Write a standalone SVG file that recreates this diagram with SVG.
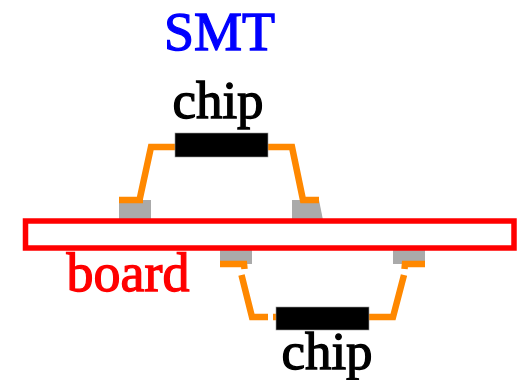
<svg xmlns="http://www.w3.org/2000/svg" width="520" height="380" viewBox="0 0 520 380">
<style>
text{font-family:"Liberation Serif","Times New Roman",serif;font-size:54px;text-anchor:middle;stroke-width:1.3px}
text.small{font-size:53px}
.pad{fill:#aaaaaa}
.chip{fill:#000;stroke:#999;stroke-width:.6}
.lead{fill:none;stroke:#ff8800;stroke-width:6.500}
</style>
<rect width="520" height="380" fill="#fff"/>
<g id="title"><text x="219.500" y="50" fill="#0000ff" stroke="#0000ff">SMT</text></g>
<g id="pads">
<rect class="pad" x="119" y="200" width="32" height="20"/>
<path class="pad" d="M292 200H319L323 220H292Z"/>
<rect class="pad" x="220" y="249" width="32" height="15"/>
<rect class="pad" x="393" y="249" width="32" height="15"/>
</g>
<g id="connectors">
<path class="lead" d="M175 147H151L139.500 200M119 200H143"/>
<path class="lead" d="M268 147H292L303 200H319"/>
<path class="lead" d="M220 264H244L244.500 269M241.500 275L252 317H268M273 317H276"/>
<path class="lead" d="M369 317H393L404 275M404.500 269L405 264H425"/>
</g>
<g id="board"><rect x="25.500" y="221" width="488.500" height="27" fill="none" stroke="#ff0000" stroke-width="5.500"/><text x="128" y="291" fill="#ff0000" stroke="#ff0000">board</text></g>
<g id="chip-top"><rect class="chip" x="175" y="133" width="93" height="24"/><text class="small" x="218" y="118" stroke="#000">chip</text></g>
<g id="chip-bottom"><rect class="chip" x="276" y="307" width="93" height="23"/><text class="small" x="327" y="368.500" stroke="#000">chip</text></g>
</svg>
